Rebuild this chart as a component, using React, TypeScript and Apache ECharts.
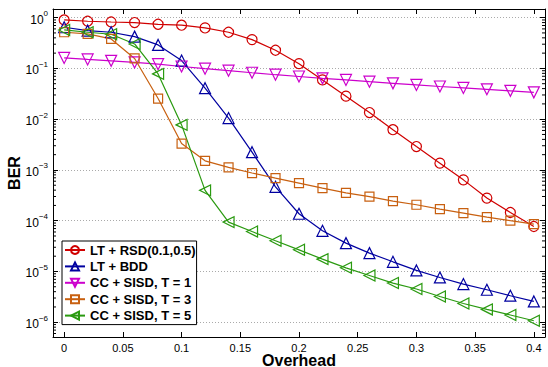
import React, { useEffect, useRef } from 'react';
import * as echarts from 'echarts';

const overhead = [0, 0.02, 0.04, 0.06, 0.08, 0.1, 0.12, 0.14, 0.16, 0.18, 0.2, 0.22, 0.24, 0.26, 0.28, 0.3, 0.32, 0.34, 0.36, 0.38, 0.4];

const ltRsd = [0.9, 0.85, 0.82, 0.8, 0.74, 0.71, 0.627, 0.516, 0.369, 0.228, 0.124, 0.0594, 0.0284, 0.0135, 0.0062, 0.00289, 0.00136, 6.38e-4, 2.79e-4, 1.45e-4, 7.69e-5];
const ltBdd = [0.647, 0.555, 0.516, 0.423, 0.29, 0.1425, 0.0408, 0.0105, 0.00224, 4.65e-4, 1.37e-4, 6.33e-5, 3.62e-5, 2.3e-5, 1.55e-5, 1.05e-5, 7.62e-6, 5.65e-6, 4.37e-6, 3.33e-6, 2.57e-6];
const ccT1 = [0.161, 0.15, 0.141, 0.131, 0.121, 0.109, 0.0986, 0.0901, 0.0822, 0.0751, 0.0693, 0.0638, 0.0594, 0.0547, 0.0509, 0.0473, 0.044, 0.0413, 0.0388, 0.0362, 0.0337];
const ccT3 = [0.516, 0.478, 0.381, 0.157, 0.0255, 0.00331, 0.00151, 0.00112, 8.69e-4, 6.9e-4, 5.5e-4, 4.38e-4, 3.54e-4, 2.99e-4, 2.43e-4, 2.06e-4, 1.69e-4, 1.41e-4, 1.18e-4, 1.0e-4, 8.57e-5];
const ccT5 = [0.573, 0.516, 0.471, 0.303, 0.078, 0.00772, 3.96e-4, 9.38e-5, 6.12e-5, 4.02e-5, 2.67e-5, 1.75e-5, 1.18e-5, 8.34e-6, 5.91e-6, 4.51e-6, 3.22e-6, 2.34e-6, 1.79e-6, 1.39e-6, 1.07e-6];

const seriesNames = ['LT + RSD(0.1,0.5)', 'LT + BDD', 'CC + SISD, T = 1', 'CC + SISD, T = 3', 'CC + SISD, T = 5'];
const seriesValues = [ltRsd, ltBdd, ccT1, ccT3, ccT5];
const seriesColors = ['#d00000', '#0000a0', '#cc00cc', '#c86010', '#2a9a10'];
const seriesSymbols = ['circle', 'triangle', 'triangle', 'rect', 'triangle'];
const seriesRotate = [0, 0, 180, 0, 90];
const seriesSymbolSize = [10, 11, 11, 9, 11];

const X_MIN = -0.0095;
const X_MAX = 0.4095;
const Y_MIN = 5.12e-7;
const Y_MAX = 1.48;

// minor log ticks (2..9 x 10^n) inside the y range
const minorTickValues: number[] = [];
for (let n = -7; n <= 0; n++) {
  for (let k = 2; k <= 9; k++) {
    const v = k * Math.pow(10, n);
    if (v > Y_MIN && v < Y_MAX) minorTickValues.push(v);
  }
}

const FONT = "'Liberation Sans', Arial, Helvetica, sans-serif";

export default function App() {
  const ref = useRef<HTMLDivElement>(null);
  useEffect(() => {
    if (!ref.current) return;
    const chart = echarts.init(ref.current, undefined, { renderer: 'svg' });

    const lineSeries = seriesNames.map((name, i) => ({
      name,
      type: 'line',
      data: overhead.map((x, j) => [x, seriesValues[i][j]]),
      symbol: seriesSymbols[i],
      symbolSize: seriesSymbolSize[i],
      symbolRotate: seriesRotate[i],
      showAllSymbol: true,
      lineStyle: { color: seriesColors[i], width: 1.2 },
      itemStyle: { color: 'rgba(255,255,255,0)', borderColor: seriesColors[i], borderWidth: 1.2 },
      emphasis: { disabled: true },
      clip: false,
      z: 3,
    }));

    const xAxisBase = {
      type: 'value',
      min: X_MIN,
      max: X_MAX,
      splitNumber: 8,
      axisLine: { show: true, onZero: false, lineStyle: { color: '#000', width: 1 } },
      axisTick: { show: true, inside: true, length: 5, lineStyle: { color: '#000' } },
      splitLine: { show: false },
    };
    const yAxisBase = {
      type: 'log',
      logBase: 10,
      min: Y_MIN,
      max: Y_MAX,
      axisLine: { show: true, onZero: false, lineStyle: { color: '#000', width: 1 } },
      axisTick: { show: true, inside: true, length: 5, lineStyle: { color: '#000' } },
    };

    chart.setOption({
      animation: false,
      backgroundColor: '#fff',
      textStyle: { fontFamily: FONT },
      grid: { left: 53, top: 9, right: 3, bottom: 30, containLabel: false, outerBoundsMode: 'none' },
      xAxis: [
        {
          ...xAxisBase,
          position: 'bottom',
          name: 'Overhead',
          nameLocation: 'middle',
          nameGap: 17,
          nameMoveOverlap: false,
          nameTextStyle: { fontSize: 16, fontWeight: 'bold', color: '#000', fontFamily: FONT, lineHeight: 12 },
          axisLabel: {
            show: true,
            fontSize: 11,
            lineHeight: 12,
            color: '#000',
            margin: 5,
            fontFamily: FONT,
            showMinLabel: false,
            showMaxLabel: false,
            formatter: (v: number) => String(Math.round(v * 100) / 100),
          },
        },
        {
          ...xAxisBase,
          position: 'top',
          axisLabel: { show: false },
        },
      ],
      yAxis: [
        {
          ...yAxisBase,
          position: 'left',
          name: 'BER',
          nameLocation: 'middle',
          nameGap: 31,
          nameMoveOverlap: false,
          nameTextStyle: { fontSize: 16, fontWeight: 'bold', color: '#000', fontFamily: FONT },
          splitLine: { show: true, lineStyle: { color: '#aaa', type: [1, 2], width: 1 } },
          axisLabel: {
            show: true,
            margin: 5,
            showMinLabel: false,
            showMaxLabel: false,
            formatter: (v: number) => {
              const e = Math.round(Math.log10(v));
              return '{b|10}{s|' + (e < 0 ? '\u2212' + -e : String(e)) + '}';
            },
            rich: {
              b: { fontSize: 12, color: '#000', fontFamily: FONT, lineHeight: 16, verticalAlign: 'bottom' },
              s: { fontSize: 8, color: '#000', fontFamily: FONT, lineHeight: 9, verticalAlign: 'top' },
            },
          },
        },
        {
          ...yAxisBase,
          position: 'right',
          splitLine: { show: false },
          axisLabel: { show: false },
        },
      ],
      legend: {
        data: seriesNames,
        orient: 'vertical',
        left: 62,
        top: 241,
        padding: [2, 1, 2, 2],
        itemWidth: 20,
        itemHeight: 10,
        itemGap: 2.4,
        backgroundColor: '#fff',
        borderColor: '#000',
        borderWidth: 1,
        borderRadius: 0,
        textStyle: { fontSize: 13, fontWeight: 'bold', color: '#000', fontFamily: FONT, lineHeight: 14 },
        selectedMode: false,
      },
      series: [
        ...lineSeries,
        {
          type: 'custom',
          silent: true,
          data: minorTickValues.map((v) => [0, v]),
          z: 4,
          renderItem: (params: any, api: any) => {
            const p = api.coord([0, api.value(1)]);
            const cs = params.coordSys;
            return {
              type: 'group',
              children: [
                { type: 'line', shape: { x1: cs.x, y1: p[1], x2: cs.x + 3, y2: p[1] }, style: { stroke: '#000', lineWidth: 1 } },
                { type: 'line', shape: { x1: cs.x + cs.width - 3, y1: p[1], x2: cs.x + cs.width, y2: p[1] }, style: { stroke: '#000', lineWidth: 1 } },
              ],
            };
          },
        },
      ],
    });
    return () => chart.dispose();
  }, []);
  return <div ref={ref} style={{ width: 548, height: 367, position: 'absolute', left: 0, top: 0 }} />;
}
